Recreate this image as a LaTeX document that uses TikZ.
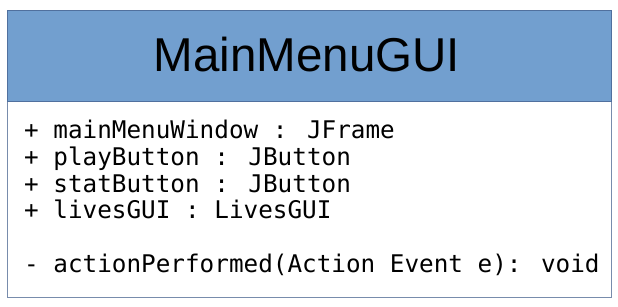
\documentclass[tikz,border=0pt]{standalone}
\usepackage{fontspec}
\setmainfont{Liberation Sans}
\newfontfamily\umlmono{DejaVu Sans Mono}
\definecolor{headerfill}{RGB}{114,159,207}
\definecolor{headerline}{RGB}{80,112,158}
\definecolor{boxline}{RGB}{120,140,172}
\begin{document}
\begin{tikzpicture}[x=1pt,y=-1pt,
  titletext/.style={font=\fontsize{47.5}{47.5}\selectfont, text=black, inner sep=0pt},
  membertext/.style={font=\umlmono\fontsize{24.3}{24.3}\selectfont, anchor=base west, inner sep=0pt}]
  \useasboundingbox (0,0) rectangle (618,306);
  % class box: body and header compartment
  \fill[white] (7,10) rectangle (611,297);
  \draw[boxline, line width=1pt] (7,10) rectangle (611,297);
  \draw[headerline, line width=1pt, fill=headerfill] (7,10) rectangle (611,101);
  \node[titletext] (title) at (307,55) {MainMenuGUI};
  % attributes
  \node[membertext] (a1) at (24,138) {+ mainMenuWindow : JFrame};
  \node[membertext] (a2) at (24,165) {+ playButton : JButton};
  \node[membertext] (a3) at (24,192) {+ statButton : JButton};
  \node[membertext] (a4) at (24,218) {+ livesGUI : LivesGUI};
  % operations
  \node[membertext] (o1) at (24,272) {- actionPerformed(Action Event e): void};
\end{tikzpicture}
\end{document}
